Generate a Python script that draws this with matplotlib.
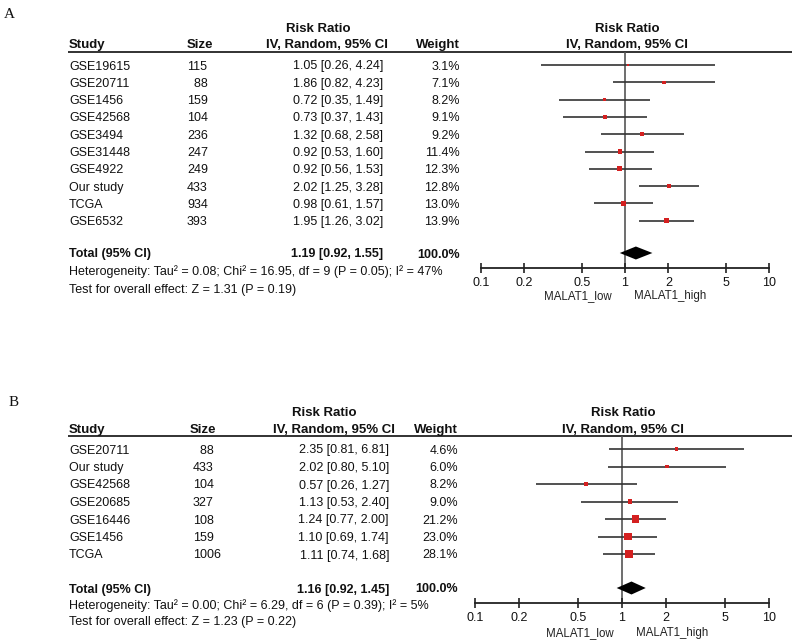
import matplotlib
matplotlib.use("Agg")
import matplotlib.pyplot as plt
import numpy as np

# ---------------- data ----------------
a_studies = ["GSE19615", "GSE20711", "GSE1456", "GSE42568", "GSE3494",
             "GSE31448", "GSE4922", "Our study", "TCGA", "GSE6532"]
a_sizes = [115, 88, 159, 104, 236, 247, 249, 433, 934, 393]
a_rr = [1.05, 1.86, 0.72, 0.73, 1.32, 0.92, 0.92, 2.02, 0.98, 1.95]
a_lo = [0.26, 0.82, 0.35, 0.37, 0.68, 0.53, 0.56, 1.25, 0.61, 1.26]
a_hi = [4.24, 4.23, 1.49, 1.43, 2.58, 1.60, 1.53, 3.28, 1.57, 3.02]
a_weight = [3.1, 7.1, 8.2, 9.1, 9.2, 11.4, 12.3, 12.8, 13.0, 13.9]
a_total = [1.19, 0.92, 1.55]
a_total_weight = 100.0
a_het = "Heterogeneity: Tau² = 0.08; Chi² = 16.95, df = 9 (P = 0.05); I² = 47%"
a_test = "Test for overall effect: Z = 1.31 (P = 0.19)"

b_studies = ["GSE20711", "Our study", "GSE42568", "GSE20685", "GSE16446",
             "GSE1456", "TCGA"]
b_sizes = [88, 433, 104, 327, 108, 159, 1006]
b_rr = [2.35, 2.02, 0.57, 1.13, 1.24, 1.10, 1.11]
b_lo = [0.81, 0.80, 0.26, 0.53, 0.77, 0.69, 0.74]
b_hi = [6.81, 5.10, 1.27, 2.40, 2.00, 1.74, 1.68]
b_weight = [4.6, 6.0, 8.2, 9.0, 21.2, 23.0, 28.1]
b_total = [1.16, 0.92, 1.45]
b_total_weight = 100.0
b_het = "Heterogeneity: Tau² = 0.00; Chi² = 6.29, df = 6 (P = 0.39); I² = 5%"
b_test = "Test for overall effect: Z = 1.23 (P = 0.22)"

tick_values = [0.1, 0.2, 0.5, 1, 2, 5, 10]
tick_labels = ["0.1", "0.2", "0.5", "1", "2", "5", "10"]
favours = ["MALAT1_low", "MALAT1_high"]

# ---------------- figure ----------------
W, H = 800, 643
fig = plt.figure(figsize=(W / 100, H / 100), dpi=100)
fig.patch.set_facecolor("white")
plt.rcParams["font.family"] = ["Liberation Sans", "DejaVu Sans"]

ov = fig.add_axes([0, 0, 1, 1])
ov.set_xlim(0, W)
ov.set_ylim(H, 0)
ov.axis("off")

TXT = "#111111"
LINE = "#333333"
RED = "#d42020"
FS = 9
HFS = 9.5
OFF = 4.5    # visual centre -> baseline offset (px) for 9pt text
HOFF = 4.7


def t(x, y, s, ha="left", bold=False, size=FS):
    off = HOFF if size > FS else OFF
    ov.text(x, y + off, s, fontsize=size, weight="bold" if bold else "normal",
            ha=ha, va="baseline", color=TXT)


def panel(letter, letter_xy, studies, sizes, rr, lo, hi, weight, total,
          total_w, het, test, L):
    ov.text(letter_xy[0], letter_xy[1], letter, family="Liberation Serif",
            fontsize=11, ha="center", va="center", color=TXT)
    # headers
    t(L["rr_c"], L["h1"], "Risk Ratio", ha="center", bold=True, size=HFS)
    t(L["plot_c"], L["h1"], "Risk Ratio", ha="center", bold=True, size=HFS)
    t(69, L["h2"], "Study", bold=True, size=HFS)
    t(L["size_hx"], L["h2"], "Size", bold=True, size=HFS)
    t(L["ci_hr"], L["h2"], "IV, Random, 95% CI", ha="right", bold=True, size=HFS)
    t(L["w_r"], L["h2"], "Weight", ha="right", bold=True, size=HFS)
    t(L["plot_c"], L["h2"], "IV, Random, 95% CI", ha="center", bold=True, size=HFS)
    ov.plot([68, 792], [L["line"], L["line"]], color="#222222", lw=1.3,
            solid_capstyle="butt")

    n = len(studies)
    ys = [L["row0"] + i * L["step"] for i in range(n)]
    for i in range(n):
        y = ys[i]
        t(69, y, studies[i])
        s = str(sizes[i])
        if len(s) == 2:
            s = "  " + s
        t(L["size_x"], y, s)
        t(L["ci_r"], y, f"{rr[i]:.2f} [{lo[i]:.2f}, {hi[i]:.2f}]", ha="right")
        t(L["w_r"], y, f"{weight[i]:.1f}%", ha="right")
    yt = L["total"]
    t(69, yt, "Total (95% CI)", bold=True)
    t(L["ci_r"], yt, f"{total[0]:.2f} [{total[1]:.2f}, {total[2]:.2f}]",
      ha="right", bold=True)
    t(L["w_r"], yt, f"{total_w:.1f}%", ha="right", bold=True)
    t(69, L["het"], het)
    t(69, L["test"], test)

    # forest axes (pixel rows on y, log risk ratio on x)
    x0, x1 = L["ax_l"], 769
    y0, y1 = L["line"], L["axis"]
    ax = fig.add_axes([x0 / W, 1 - y1 / H, (x1 - x0) / W, (y1 - y0) / H])
    ax.set_xscale("log")
    ax.set_xlim(0.1, 10)
    ax.set_ylim(y1, y0)
    ax.patch.set_alpha(0)
    for sp in ["top", "right", "left"]:
        ax.spines[sp].set_visible(False)
    ax.spines["bottom"].set_linewidth(1.3)
    ax.spines["bottom"].set_color("#222222")
    ax.set_yticks([])
    ax.set_xticks(tick_values)
    ax.set_xticklabels(tick_labels)
    ax.minorticks_off()
    ax.tick_params(axis="x", direction="inout", length=7, width=1.2,
                   labelsize=FS, pad=3, colors="#222222", labelcolor=TXT)
    ax.axvline(1, color="#555555", lw=1.2, zorder=1)
    ax.hlines(ys, lo, hi, color=LINE, lw=1.2, zorder=2)
    ax.scatter(rr, ys, marker="s", s=[L["sq"] * w for w in weight],
               color=RED, linewidths=0, zorder=3)
    h = 6.5
    ax.fill([total[1], total[0], total[2], total[0]],
            [yt, yt - h, yt, yt + h], color="black", lw=0, zorder=3)
    ov.text(L["fav_l"], L["fav_y"], favours[0], fontsize=8.3, ha="center",
            va="center", color="#222222")
    ov.text(L["fav_r"], L["fav_y"], favours[1], fontsize=8.3, ha="center",
            va="center", color="#222222")


LA = dict(rr_c=318, plot_c=627, h1=27, h2=43, line=52, size_hx=187,
          ci_hr=388, w_r=460, row0=65, step=17.3, size_x=187, ci_r=383,
          total=253, het=271, test=288, ax_l=481, axis=268, sq=0.9,
          fav_l=578, fav_r=670, fav_y=296)
LB = dict(rr_c=324, plot_c=623, h1=411, h2=428, line=436, size_hx=190,
          ci_hr=395, w_r=458, row0=449, step=17.5, size_x=193, ci_r=389,
          total=588, het=605, test=621, ax_l=475, axis=603, sq=1.2,
          fav_l=580, fav_r=672, fav_y=633)

panel("A", (9.5, 14.5), a_studies, a_sizes, a_rr, a_lo, a_hi, a_weight,
      a_total, a_total_weight, a_het, a_test, LA)
panel("B", (14, 403), b_studies, b_sizes, b_rr, b_lo, b_hi, b_weight,
      b_total, b_total_weight, b_het, b_test, LB)

fig.savefig("out.png", dpi=100, facecolor="white")
